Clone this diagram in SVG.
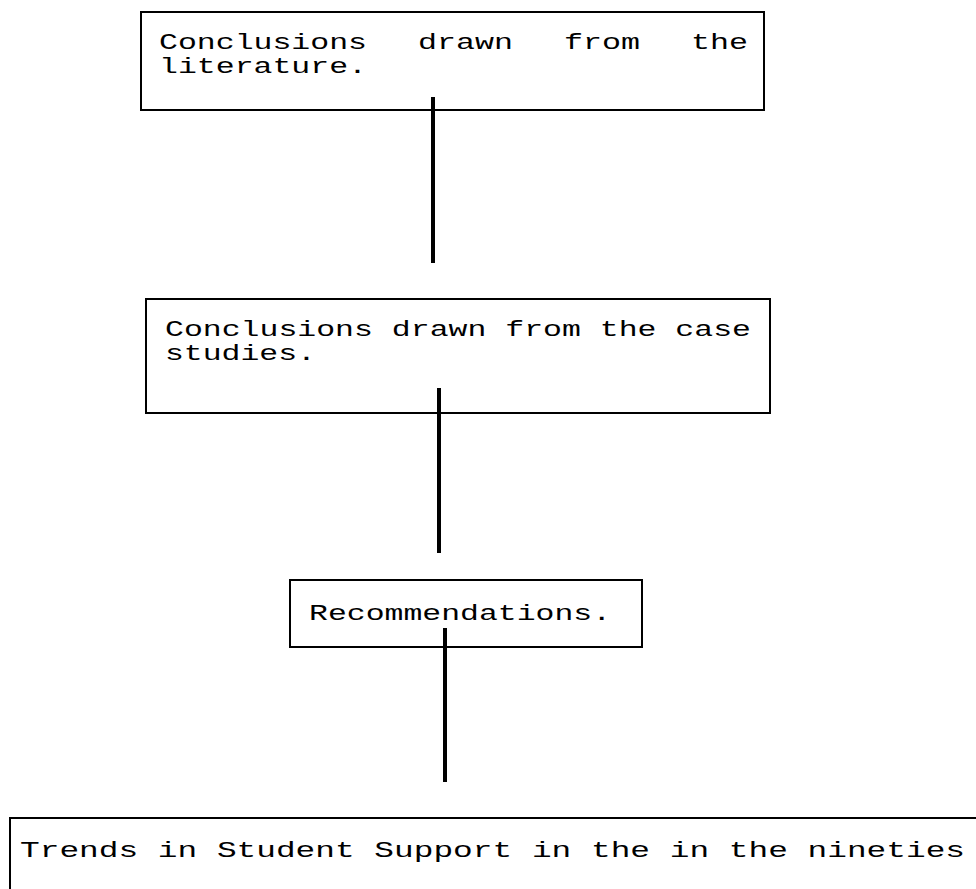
<svg xmlns="http://www.w3.org/2000/svg" width="976" height="889" viewBox="0 0 976 889">
  <style>
    .box { fill: #fff; stroke: #000; stroke-width: 2; }
    .lbl { font-family: "Liberation Mono", "Courier New", monospace; font-size: 22px; fill: #000; }
    .link { stroke: #000; stroke-width: 4; stroke-linecap: butt; }
  </style>
  <rect width="976" height="889" fill="#fff"/>

  <g id="node-literature">
    <rect class="box" x="141" y="12" width="623" height="98"/>
    <text class="lbl" x="159" y="49" textLength="208" lengthAdjust="spacingAndGlyphs">Conclusions</text>
    <text class="lbl" x="418" y="49" textLength="95" lengthAdjust="spacingAndGlyphs">drawn</text>
    <text class="lbl" x="564" y="49" textLength="76" lengthAdjust="spacingAndGlyphs">from</text>
    <text class="lbl" x="691" y="49" textLength="57" lengthAdjust="spacingAndGlyphs">the</text>
    <text class="lbl" x="159" y="73" textLength="208" lengthAdjust="spacingAndGlyphs">literature.</text>
  </g>

  <g id="node-case-studies">
    <rect class="box" x="146" y="299" width="624" height="114"/>
    <text class="lbl" x="165" y="336" textLength="586" lengthAdjust="spacingAndGlyphs">Conclusions drawn from the case</text>
    <text class="lbl" x="165" y="360" textLength="151" lengthAdjust="spacingAndGlyphs">studies.</text>
  </g>

  <g id="node-recommendations">
    <rect class="box" x="290" y="580" width="352" height="67"/>
    <text class="lbl" x="309" y="620" textLength="302" lengthAdjust="spacingAndGlyphs">Recommendations.</text>
  </g>

  <g id="node-trends">
    <rect class="box" x="10" y="818" width="990" height="100"/>
    <text class="lbl" x="20" y="857" textLength="945" lengthAdjust="spacingAndGlyphs">Trends in Student Support in the in the nineties</text>
  </g>

  <g id="connectors">
    <line class="link" x1="433" y1="97" x2="433" y2="263"/>
    <line class="link" x1="439" y1="388" x2="439" y2="553"/>
    <line class="link" x1="445" y1="628" x2="445" y2="782"/>
  </g>
</svg>
